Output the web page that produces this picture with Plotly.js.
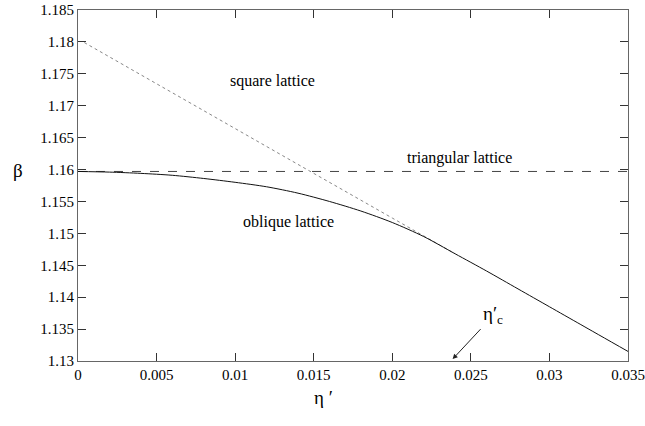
<!DOCTYPE html>
<html>
<head>
<meta charset="utf-8">
<script src="https://cdn.plot.ly/plotly-3.0.1.min.js"></script>
<style>
html,body{margin:0;padding:0;background:#fff;}
#chart{width:645px;height:426px;}
</style>
</head>
<body>
<div id="chart"></div>
<script>
// Oblique lattice (solid)
const obliqueX = [0, 0.002, 0.004, 0.006, 0.008, 0.010, 0.012, 0.014, 0.016, 0.018, 0.020, 0.022, 0.024, 0.026, 0.028, 0.030, 0.032, 0.035];
const obliqueY = [1.1597, 1.1596, 1.1594, 1.1591, 1.1586, 1.1580, 1.1573, 1.1563, 1.1550, 1.1535, 1.1517, 1.1495, 1.1468, 1.1441, 1.1413, 1.1385, 1.1357, 1.1315];
// Square lattice (dotted)
const squareX = [0.0004, 0.005, 0.010, 0.015, 0.020, 0.024];
const squareY = [1.1799, 1.1734, 1.1664, 1.1594, 1.1524, 1.1468];
// Triangular lattice (dashed)
const triX = [0, 0.035];
const triY = [1.1597, 1.1597];
// Axis ticks
const xTicks = [0, 0.005, 0.01, 0.015, 0.02, 0.025, 0.03, 0.035];
const xTickText = ["0", "0.005", "0.01", "0.015", "0.02", "0.025", "0.03", "0.035"];
const yTicks = [1.13, 1.135, 1.14, 1.145, 1.15, 1.155, 1.16, 1.165, 1.17, 1.175, 1.18, 1.185];
const yTickText = ["1.13", "1.135", "1.14", "1.145", "1.15", "1.155", "1.16", "1.165", "1.17", "1.175", "1.18", "1.185"];
// Critical point marker
const etaC = 0.02384;

const BETA = "\u03b2", ETA = "\u03b7", PRIME = "\u2032";

function tf(size) { return {family: "Liberation Serif", size: size, color: "#000"}; }

const traces = [
  {x: triX, y: triY, mode: "lines", line: {color: "#444", width: 1, dash: "dash"}},
  {x: squareX, y: squareY, mode: "lines", line: {color: "#888", width: 1, dash: "dot"}},
  {x: obliqueX, y: obliqueY, mode: "lines", line: {color: "#111", width: 1, shape: "spline", smoothing: 0.8}}
];

const layout = {
  width: 645, height: 426,
  margin: {l: 78, r: 17, t: 10, b: 65},
  font: tf(15),
  showlegend: false,
  xaxis: {range: [0, 0.035], tickmode: "array", tickvals: xTicks, ticktext: xTickText, tickfont: tf(15),
    showgrid: false, zeroline: false, showline: true, linecolor: "#666", linewidth: 1,
    mirror: "ticks", ticks: "inside", ticklen: 8, tickcolor: "#333", tickwidth: 1},
  yaxis: {range: [1.13, 1.185], tickmode: "array", tickvals: yTicks, ticktext: yTickText, tickfont: tf(15),
    showgrid: false, zeroline: false, showline: true, linecolor: "#666", linewidth: 1,
    mirror: "ticks", ticks: "inside", ticklen: 8, tickcolor: "#333", tickwidth: 1},
  annotations: [
    {text: "square lattice", xref: "paper", yref: "paper", x: (228-78)/550, y: (361-70)/351, showarrow: false, font: tf(16)},
    {text: "triangular lattice", xref: "paper", yref: "paper", x: (514-78)/550, y: (361-158)/351, showarrow: false, font: tf(16)},
    {text: "oblique lattice", xref: "paper", yref: "paper", x: (241-78)/550, y: (361-222)/351, showarrow: false, font: tf(16)},
    {text: BETA, xref: "paper", yref: "paper", x: (11-78)/550, y: (361-170)/351, showarrow: false, font: tf(19)},
    {text: ETA + " " + PRIME, xref: "paper", yref: "paper", x: (323-78)/550, y: (361-410)/351, showarrow: false, font: tf(19)},
    {text: ETA + PRIME + "<sub>c</sub>", x: etaC, y: 1.1303, xref: "x", yref: "y", showarrow: true, arrowhead: 2, arrowsize: 1, arrowwidth: 1, arrowcolor: "#222", ax: 28, ay: -30, standoff: 0, xanchor: "left", yanchor: "bottom", font: tf(19)}
  ]
};

Plotly.newPlot("chart", traces, layout, {staticPlot: true});
</script>
</body>
</html>
